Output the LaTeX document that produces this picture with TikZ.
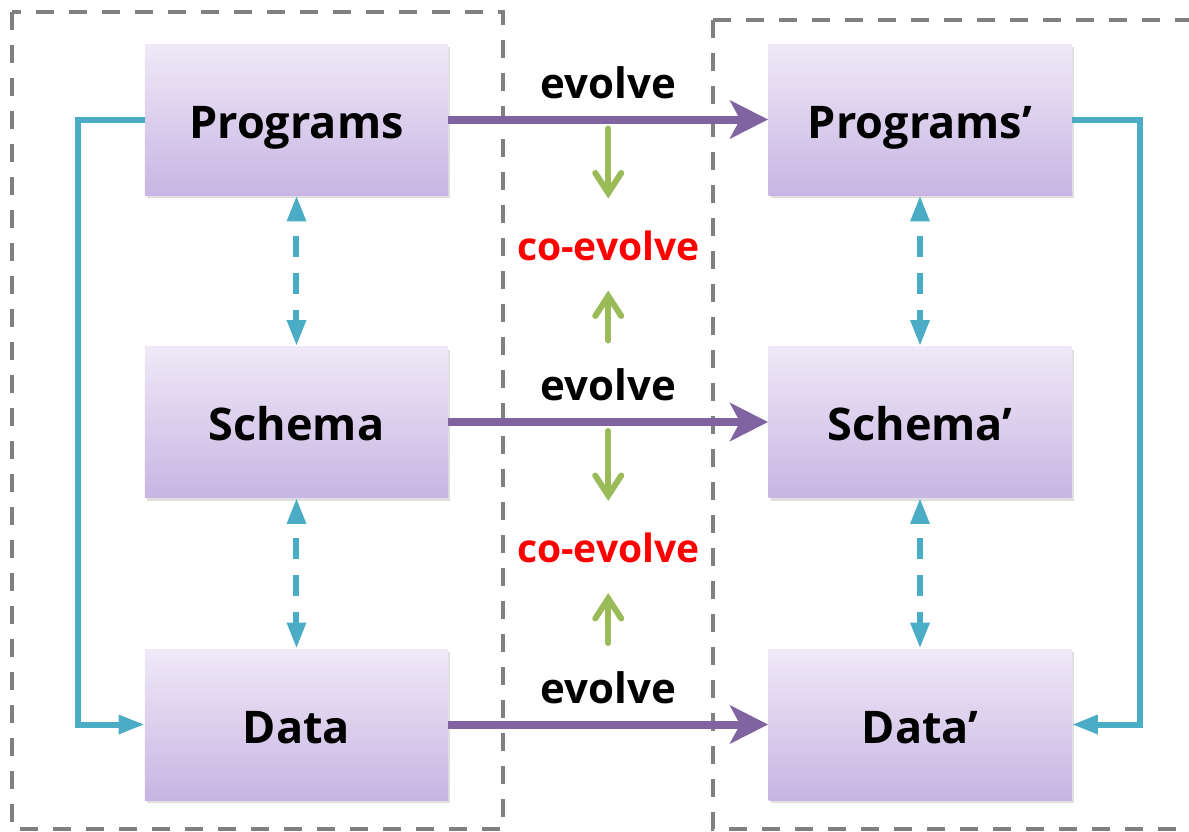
\documentclass[tikz,border=0pt]{standalone}
\usepackage{fontspec}
\setmainfont{Open Sans}
\usepackage{tikz}
\usetikzlibrary{arrows.meta,shadows}
\definecolor{boxtop}{HTML}{EFE9F7}
\definecolor{boxbot}{HTML}{C8B5E3}
\definecolor{evopurple}{HTML}{8064A2}
\definecolor{linkcyan}{HTML}{4BACC6}
\definecolor{cogreen}{HTML}{9BBB59}
\definecolor{framegray}{HTML}{808080}
\tikzstyle{artifact} = [rectangle,top color=boxtop,bottom color=boxbot,minimum width=151.5pt,minimum height=75.5pt,inner sep=0pt,text height=18.5pt,text depth=0pt,font=\fontsize{22.5}{26}\selectfont\bfseries,drop shadow={shadow xshift=1pt,shadow yshift=-1.5pt,opacity=.25}]
\tikzstyle{evolve} = [draw=evopurple,line width=4pt,-{Stealth[length=19pt,width=19pt,inset=5pt]}]
\tikzstyle{elabel} = [font=\fontsize{21}{24}\selectfont\bfseries,above=5pt]
\tikzstyle{colabel} = [font=\fontsize{19.5}{22}\selectfont\bfseries,text=red]
\tikzstyle{coarrow} = [draw=cogreen,line width=3pt,line cap=round,-{Straight Barb[length=10pt,width=13pt,line cap=round]}]
\tikzstyle{link} = [draw=linkcyan,line width=3pt,-{Triangle[length=13pt,width=9pt]}]
\tikzstyle{dlink} = [link,{Triangle[length=13pt,width=9pt]}-{Triangle[length=13pt,width=9pt]},dash pattern=on 10.5pt off 8pt,dash phase=10.5pt]
\tikzstyle{frame} = [draw=framegray,line width=2pt,dash pattern=on 9pt off 7.5pt]

\begin{document}
\begin{tikzpicture}
\useasboundingbox (-148.25pt,59.75pt) rectangle (446.25pt,-355.75pt);

% old and new versions
\draw[frame] (-142.25pt,53.75pt) rectangle (103.25pt,-354.75pt);
\draw[frame] (208.25pt,49.75pt) rectangle (460pt,-354.75pt);

\node[artifact] (prog) {Programs};
\node[artifact,below of=prog,node distance=151.25pt] (schema) {Schema};
\node[artifact,below of=schema,node distance=151.25pt] (data) {Data};
\node[artifact,right of=prog,node distance=311.75pt] (progn) {Programs’};
\node[artifact,right of=schema,node distance=311.75pt] (scheman) {Schema’};
\node[artifact,right of=data,node distance=311.75pt] (datan) {Data’};

\draw[evolve] (prog) -- node[elabel] (ev1) {evolve} coordinate[midway] (m1) (progn);
\draw[evolve] (schema) -- node[elabel] (ev2) {evolve} coordinate[midway] (m2) (scheman);
\draw[evolve] (data) -- node[elabel] (ev3) {evolve} (datan);

\node[colabel,below of=m1,node distance=63pt] (co1) {co-evolve};
\node[colabel,below of=m2,node distance=63pt] (co2) {co-evolve};

\draw[coarrow] ([yshift=58.5pt]co1.center) -- ([yshift=23.5pt]co1.center);
\draw[coarrow] ([yshift=-47.5pt]co1.center) -- ([yshift=-22.5pt]co1.center);
\draw[coarrow] ([yshift=58.5pt]co2.center) -- ([yshift=23.5pt]co2.center);
\draw[coarrow] ([yshift=-47.5pt]co2.center) -- ([yshift=-22.5pt]co2.center);

\draw[dlink] (prog) -- (schema);
\draw[dlink] (schema) -- (data);
\draw[dlink] (progn) -- (scheman);
\draw[dlink] (scheman) -- (datan);

\draw[link] (prog.west) -- ++(-33.5pt,0) |- (data.west);
\draw[link] (progn.east) -- ++(34pt,0) |- (datan.east);
\end{tikzpicture}
\end{document}
